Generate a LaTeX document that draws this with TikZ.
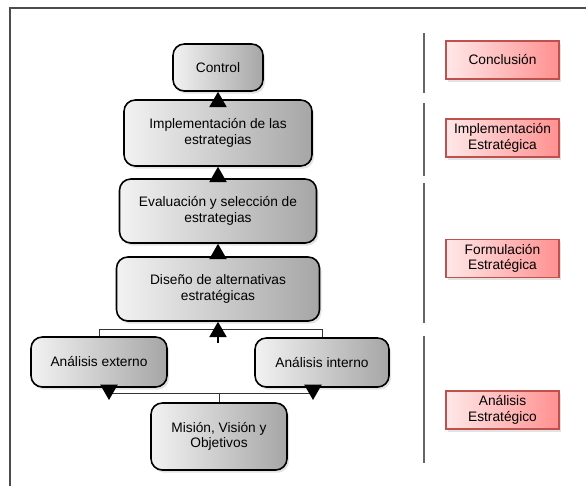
\documentclass[tikz,border=0pt]{standalone}
\usepackage{fontspec}
\setmainfont{Liberation Sans}
\usetikzlibrary{arrows.meta,shadows}
\definecolor{bordeRojo}{HTML}{C0504D}
\definecolor{rojoClaro}{HTML}{FFE8E8}
\definecolor{rojoOscuro}{HTML}{FF9090}
\definecolor{grisClaro}{HTML}{F2F2F2}
\definecolor{grisOscuro}{HTML}{A6A6A6}

\begin{document}
\begin{tikzpicture}[x=0.75pt,y=-0.75pt,
        fase/.style={draw=black,line width=1.2pt,rounded corners=8.5pt,
            left color=grisClaro,right color=grisOscuro,
            drop shadow={shadow xshift=1.5pt,shadow yshift=-2pt,opacity=0.22},
            align=center,font=\fontsize{10.3}{11.5}\selectfont,inner sep=2pt},
        etapa/.style={draw=bordeRojo,line width=1.1pt,
            left color=rojoClaro,right color=rojoOscuro,
            drop shadow={shadow xshift=1.5pt,shadow yshift=-2pt,opacity=0.22},
            align=center,font=\fontsize{10.3}{11.5}\selectfont,inner sep=2pt,
            minimum width=84.75pt,minimum height=28.5pt},
        flecha/.style={-{Triangle[length=11.5pt,width=13pt]},line width=0.8pt},
        guia/.style={line width=0.7pt,black!80},
        separador/.style={line width=0.8pt,black!60}]

    \useasboundingbox (0,0) rectangle (586,486);
    \draw [line width=1pt,black!70] (10,486) -- (10,8) -- (586,8);

    % fases
    \node[fase,minimum width=67.5pt,minimum height=35.25pt] (control) at (218,67.5) {Control};
    \node[fase,minimum width=141pt,minimum height=49.5pt] (implementacion) at (218,133) {Implementación de las\\estrategias};
    \node[fase,minimum width=147.75pt,minimum height=48pt] (evaluacion) at (218,211) {Evaluación y selección de\\estrategias};
    \node[fase,minimum width=152.25pt,minimum height=48pt] (diseno) at (218,289) {Diseño de alternativas\\estratégicas};
    \node[fase,minimum width=102pt,minimum height=37.5pt] (externo) at (99,362) {Análisis externo};
    \node[fase,minimum width=100.5pt,minimum height=36.75pt] (interno) at (322,362.5) {Análisis interno};
    \node[fase,minimum width=102pt,minimum height=50.25pt] (mision) at (219,436.5) {Misión, Visión y\\Objetivos};

    \draw[flecha] (implementacion.north) -- (control.south);
    \draw[flecha] (evaluacion.north) -- (implementacion.south);
    \draw[flecha] (diseno.north) -- (evaluacion.south);

    \draw[guia] (externo.north) -- ++(0,-7) -| (interno.north);
    \coordinate (cola) at (218,343);
    \draw[flecha] (cola) -- (diseno.south);

    \draw[guia] (mision.north) -- ++(0,-9) coordinate (union);
    \coordinate (pext) at (109,387);
    \coordinate (pint) at (313,387);
    \draw[guia] (pext |- union) -- (pint |- union);
    \draw[flecha] (pext) -- ++(0,13);
    \draw[flecha] (pint) -- ++(0,13);

    % etapas
    \draw[separador] (424,33) -- (424,93);
    \draw[separador] (424,103) -- (424,176);
    \draw[separador] (424,183) -- (424,323);
    \draw[separador] (424,336) -- (424,463);

    \node[etapa] (conclusion) at (502.5,60) {Conclusión};
    \node[etapa] (impEstrategica) at (502.5,138) {Implementación\\Estratégica};
    \node[etapa] (formulacion) at (502.5,258.5) {Formulación\\Estratégica};
    \node[etapa] (analisis) at (502.5,410) {Análisis\\Estratégico};

\end{tikzpicture}
\end{document}
